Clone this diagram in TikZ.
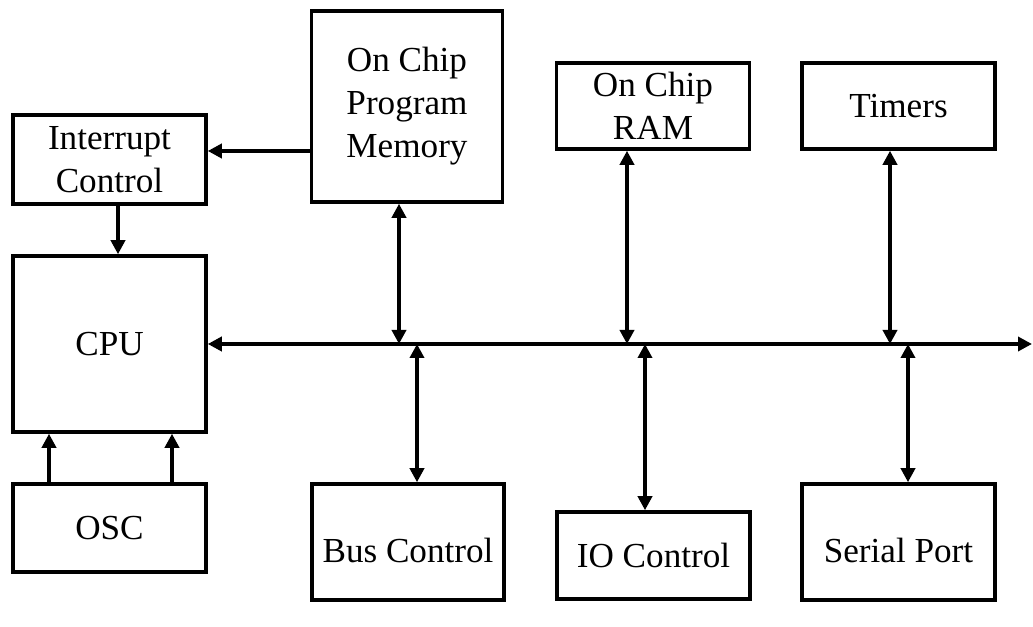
\documentclass[tikz,border=0pt]{standalone}
\usepackage{fontspec}
\setmainfont{Liberation Serif}
\usetikzlibrary{calc,arrows.meta}

\begin{document}
\begin{tikzpicture}[
    blockbox/.style={draw=black, line width=2pt, align=center,
      minimum width=3.86cm, inner sep=2pt,
      font=\fontsize{20}{24.5}\selectfont},
    lowtext/.style={text height=0.94cm, text depth=0.1cm},
    link/.style={line width=2pt, -{Triangle[length=2.8mm, width=2.8mm]}},
    dlink/.style={line width=2pt, {Triangle[length=2.8mm, width=2.8mm]}-{Triangle[length=2.8mm, width=2.8mm]}}
  ]
  \useasboundingbox (0,0) rectangle (20.66,-12.54);

  % left column: interrupt control, CPU, oscillator
  \node[blockbox, minimum height=1.78cm] (intr) at (2.19,-3.19) {Interrupt\\Control};
  \node[blockbox, minimum height=3.52cm] (cpu) at (2.19,-6.88) {CPU};
  \node[blockbox, minimum height=1.76cm] (osc) at (2.19,-10.56) {OSC};

  % peripherals above the bus
  \node[blockbox, minimum width=3.82cm, minimum height=3.82cm] (prog) at (8.14,-2.13) {On Chip\\Program\\Memory};
  \node[blockbox, minimum height=1.72cm] (ram) at (13.06,-2.12) {On Chip\\RAM};
  \node[blockbox, minimum height=1.72cm] (timers) at (17.97,-2.12) {Timers};

  % peripherals below the bus
  \node[blockbox, lowtext, minimum width=3.84cm, minimum height=2.32cm] (busctl) at (8.16,-10.84) {Bus Control};
  \node[blockbox, minimum height=1.74cm] (ioctl) at (13.07,-11.11) {IO Control};
  \node[blockbox, lowtext, minimum height=2.32cm] (serial) at (17.97,-10.84) {Serial Port};

  % ---------- system bus ----------
  \coordinate (busend) at (20.64,-6.88);
  \draw[dlink] (cpu.east) -- (busend);

  % taps on the bus line
  \coordinate (tprog) at (7.98,-6.88);
  \coordinate (tbus) at (8.34,-6.88);
  \coordinate (tram) at (12.54,-6.88);
  \coordinate (tio) at (12.90,-6.88);
  \coordinate (ttim) at (17.80,-6.88);
  \coordinate (tser) at (18.16,-6.88);

  \draw[dlink] (prog.south -| tprog) -- (tprog);
  \draw[dlink] (tbus) -- (busctl.north -| tbus);
  \draw[dlink] (ram.south -| tram) -- (tram);
  \draw[dlink] (tio) -- (ioctl.north -| tio);
  \draw[dlink] (timers.south -| ttim) -- (ttim);
  \draw[dlink] (tser) -- (serial.north -| tser);

  % ---------- control paths ----------
  \coordinate (irq) at ([yshift=1.7mm]intr.east);
  \draw[link] (prog.west |- irq) -- (irq);
  \draw[link] ([xshift=1.7mm]intr.south) -- ([xshift=1.7mm]cpu.north);
  \draw[link] ([xshift=-1.21cm]osc.north) -- ([xshift=-1.21cm]cpu.south);
  \draw[link] ([xshift=1.25cm]osc.north) -- ([xshift=1.25cm]cpu.south);
\end{tikzpicture}
\end{document}
